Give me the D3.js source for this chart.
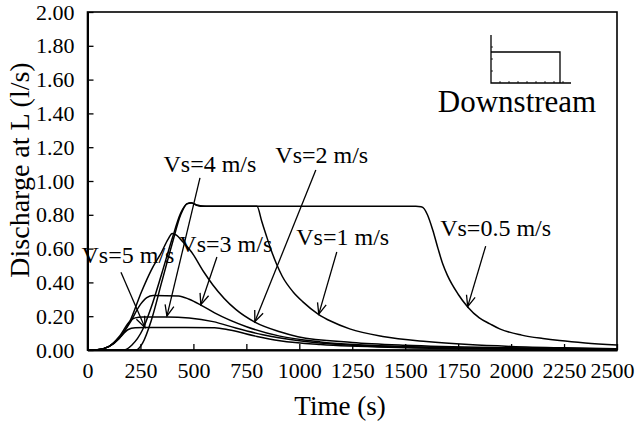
<!DOCTYPE html>
<html>
<head>
<meta charset="utf-8">
<script src="https://cdn.jsdelivr.net/npm/d3@7"></script>
<style>
  body { margin: 0; background: #fff; }
  svg text { font-family: "Liberation Serif", "Times New Roman", serif; }
</style>
</head>
<body>
<div class="container"></div>
<script>
// discharge at L (l/s) against time (s), one series per Vs
var vs05 = [[0,0],[230,0],[260,0.04],[300,0.17],[350,0.4],[400,0.63],[440,0.8],[470,0.865],[490,0.872],[520,0.856],[560,0.85],[1000,0.85],[1550,0.85],[1575,0.847],[1590,0.835],[1605,0.8],[1630,0.71],[1655,0.6],[1677,0.51],[1700,0.44],[1750,0.33],[1795,0.255],[1850,0.19],[1900,0.155],[1946,0.125],[2050,0.088],[2150,0.068],[2229,0.056],[2350,0.042],[2500,0.03]];
var vs1 = [[0,0],[170,0],[210,0.03],[260,0.12],[300,0.25],[350,0.45],[400,0.66],[440,0.81],[470,0.866],[490,0.87],[515,0.857],[550,0.85],[800,0.85],[823,0.76],[846,0.67],[869,0.585],[892,0.51],[920,0.435],[970,0.345],[1017,0.285],[1092,0.21],[1150,0.17],[1238,0.125],[1394,0.08],[1600,0.05],[1800,0.032],[2000,0.021],[2250,0.013],[2500,0.008]];
var vs2 = [[0,0],[40,0],[100,0.02],[150,0.07],[200,0.17],[255,0.345],[300,0.47],[350,0.58],[380,0.655],[400,0.69],[420,0.68],[450,0.64],[491,0.58],[550,0.46],[592,0.385],[700,0.24],[790,0.165],[908,0.108],[993,0.079],[1250,0.045],[1500,0.028],[2000,0.013],[2500,0.006]];
var vs3 = [[0,0],[40,0],[100,0.02],[150,0.07],[200,0.16],[250,0.27],[280,0.31],[310,0.322],[430,0.32],[480,0.3],[535,0.266],[600,0.22],[751,0.138],[908,0.082],[1100,0.048],[1500,0.02],[2000,0.008],[2500,0.004]];
var vs4 = [[0,0],[40,0],[100,0.02],[150,0.08],[200,0.17],[225,0.19],[260,0.196],[375,0.196],[480,0.19],[593,0.168],[700,0.13],[828,0.09],[1000,0.055],[1300,0.025],[1800,0.01],[2500,0.003]];
var vs5 = [[0,0],[40,0],[100,0.02],[150,0.07],[190,0.12],[225,0.132],[271,0.133],[600,0.132],[672,0.118],[800,0.08],[908,0.055],[1100,0.032],[1500,0.014],[2000,0.006],[2500,0.003]];

var seriesNames = ['Vs=0.5 m/s', 'Vs=1 m/s', 'Vs=2 m/s', 'Vs=3 m/s', 'Vs=4 m/s', 'Vs=5 m/s'];
var seriesValues = [vs05, vs1, vs2, vs3, vs4, vs5];

var xTicks = [0, 250, 500, 750, 1000, 1250, 1500, 1750, 2000, 2250, 2500];
var yTicks = [0, 0.2, 0.4, 0.6, 0.8, 1.0, 1.2, 1.4, 1.6, 1.8, 2.0];

// label position [t, q], arrow start [t, q], arrow tip [t, q]
var labelText = ['Vs=5 m/s', 'Vs=4 m/s', 'Vs=3 m/s', 'Vs=2 m/s', 'Vs=1 m/s', 'Vs=0.5 m/s'];
var labelAt = [[191,0.515],[578,1.053],[653,0.58],[1106,1.107],[1205,0.62],[1927,0.675]];
var arrowFrom = [[158,0.46],[531,1.018],[611,0.55],[1078,1.065],[1177,0.58],[1880,0.615]];
var arrowTo = [[271,0.133],[375,0.2],[535,0.268],[790,0.167],[1092,0.212],[1795,0.257]];

var W = 636, H = 425;
var margin = {left: 87.5, right: 19, top: 12, bottom: 75};

var svg = d3.select('.container').append('svg')
  .attr('width', W)
  .attr('height', H);

var x = d3.scaleLinear().domain([0, 2500]).range([margin.left, W - margin.right]);
var y = d3.scaleLinear().domain([0, 2]).range([H - margin.bottom, margin.top]);

svg.append('defs').append('marker')
  .attr('id', 'arrow')
  .attr('markerUnits', 'userSpaceOnUse')
  .attr('viewBox', '-12 -6 14 12')
  .attr('markerWidth', 14).attr('markerHeight', 12)
  .attr('refX', 0).attr('refY', 0)
  .attr('orient', 'auto')
  .append('path')
  .attr('d', 'M-11,-4.5L0,0L-11,4.5')
  .attr('fill', 'none')
  .attr('stroke', '#000')
  .attr('stroke-width', 1.3);

// axes, ticks pointing inwards
var xAxis = svg.append('g')
  .attr('transform', 'translate(0,' + y(0) + ')')
  .call(d3.axisBottom(x).tickValues(xTicks).tickSize(-6).tickSizeOuter(0).tickPadding(12).tickFormat(d3.format('d')));

var yAxis = svg.append('g')
  .attr('transform', 'translate(' + x(0) + ',0)')
  .call(d3.axisLeft(y).tickValues(yTicks).tickSize(-6).tickSizeOuter(0).tickPadding(13).tickFormat(d3.format('.2f')));

[xAxis, yAxis].forEach(function (g) {
  g.attr('font-size', 22);
  g.selectAll('.domain').attr('stroke-width', 2);
  g.selectAll('.tick line').attr('stroke-width', 1.3);
  g.selectAll('.tick text').attr('fill', '#000');
});
// keep the last x label inside the picture
xAxis.selectAll('.tick text').filter(function (d) { return d === 2500; }).attr('dx', -5);

// frame
svg.append('rect')
  .attr('x', x(0)).attr('y', y(2))
  .attr('width', x(2500) - x(0)).attr('height', y(0) - y(2))
  .attr('fill', 'none').attr('stroke', '#000').attr('stroke-width', 1.6);

var line = d3.line()
  .x(function (d) { return x(d[0]); })
  .y(function (d) { return y(d[1]); })
  .curve(d3.curveMonotoneX);

svg.append('g').selectAll('path')
  .data(seriesValues)
  .enter()
  .append('path')
  .attr('class', function (d, i) { return 'series s' + i; })
  .attr('d', line)
  .attr('fill', 'none')
  .attr('stroke', '#000')
  .attr('stroke-width', 1.5);

// annotations
var notes = svg.append('g').selectAll('g')
  .data(labelText)
  .enter()
  .append('g');

notes.append('text')
  .text(function (d) { return d; })
  .attr('x', function (d, i) { return x(labelAt[i][0]); })
  .attr('y', function (d, i) { return y(labelAt[i][1]); })
  .attr('text-anchor', 'middle')
  .attr('font-size', 24);

notes.append('line')
  .attr('x1', function (d, i) { return x(arrowFrom[i][0]); })
  .attr('y1', function (d, i) { return y(arrowFrom[i][1]); })
  .attr('x2', function (d, i) { return x(arrowTo[i][0]); })
  .attr('y2', function (d, i) { return y(arrowTo[i][1]); })
  .attr('stroke', '#000')
  .attr('stroke-width', 1.3)
  .attr('marker-end', 'url(#arrow)');

// inset: downstream hydrograph sketch
var inset = svg.append('g').attr('transform', 'translate(491,35)');
inset.append('path')
  .attr('d', 'M0,0V48H80')
  .attr('fill', 'none').attr('stroke', '#000').attr('stroke-width', 1.3);
inset.append('path')
  .attr('d', 'M0,17H69V48')
  .attr('fill', 'none').attr('stroke', '#000').attr('stroke-width', 1.3);
inset.selectAll('.yt').data([12, 24, 36]).enter().append('line')
  .attr('x1', 0).attr('x2', 2).attr('y1', function (d) { return d; }).attr('y2', function (d) { return d; })
  .attr('stroke', '#000').attr('stroke-width', 0.8);
inset.selectAll('.xt').data([9, 18, 27, 36, 45, 54, 63, 72]).enter().append('line')
  .attr('x1', function (d) { return d; }).attr('x2', function (d) { return d; }).attr('y1', 48).attr('y2', 46)
  .attr('stroke', '#000').attr('stroke-width', 0.8);

svg.append('text')
  .text('Downstream')
  .attr('x', 517).attr('y', 112)
  .attr('text-anchor', 'middle')
  .attr('font-size', 31);

// axis titles
svg.append('text')
  .text('Time (s)')
  .attr('x', 340).attr('y', 415)
  .attr('text-anchor', 'middle')
  .attr('font-size', 27);

svg.append('text')
  .text('Discharge at L (l/s)')
  .attr('transform', 'translate(29,' + ((y(0) + y(2)) / 2 - 11) + ') rotate(-90)')
  .attr('text-anchor', 'middle')
  .attr('font-size', 28);
</script>
</body>
</html>
